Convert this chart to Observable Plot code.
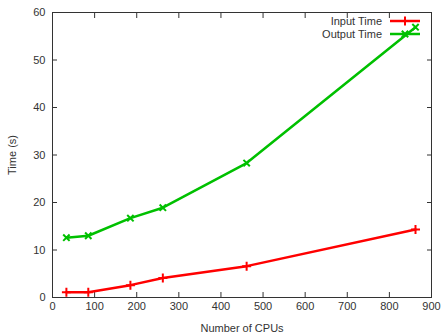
<!DOCTYPE html>
<html><head><meta charset="utf-8">
<script src="https://cdn.jsdelivr.net/npm/d3@7"></script>
<script src="https://cdn.jsdelivr.net/npm/@observablehq/plot@0.6"></script>
<style>
body{margin:0;background:#fff;font-family:"Liberation Sans",Arial,sans-serif;}
#wrap{position:relative;width:441px;height:334px;}
#legend{position:absolute;left:0;top:0;}
</style></head><body>
<div id="wrap"></div>
<script>
const cpus = [33, 85, 185, 262, 461, 862];
const inputTime = [1.1, 1.1, 2.6, 4.1, 6.6, 14.3];
const outputTime = [12.6, 13.0, 16.7, 18.9, 28.3, 56.9];
const seriesNames = ["Input Time", "Output Time"];
const seriesColors = ["#ff0000", "#00c000"];
const seriesSymbols = ["plus", "times"];
const xTicks = [0,100,200,300,400,500,600,700,800,900];
const yTicks = [0,10,20,30,40,50,60];

const input = cpus.map((c,i)=>({x:c, y:inputTime[i]}));
const output = cpus.map((c,i)=>({x:c, y:outputTime[i]}));

const chart = Plot.plot({
  width: 441, height: 334,
  marginLeft: 52, marginRight: 10, marginTop: 12, marginBottom: 37,
  style: {fontFamily: '"Liberation Sans", Arial, sans-serif', fontSize: "11px", color: "#333", background: "#fff"},
  x: {domain: [0, 900]},
  y: {domain: [0, 60]},
  marks: [
    Plot.frame({stroke: "#333", strokeWidth: 1}),
    Plot.axisX({ticks: xTicks, tickSize: -5, tickPadding: 10, stroke: "#333", label: "Number of CPUs", labelAnchor: "center", labelArrow: "none", labelOffset: 34}),
    Plot.axisX({anchor: "top", ticks: xTicks, tickSize: -5, tickFormat: () => "", label: null, stroke: "#333"}),
    Plot.axisY({ticks: yTicks, tickSize: -5, tickPadding: 12, stroke: "#333", label: "Time (s)", labelAnchor: "center", labelArrow: "none", labelOffset: 44}),
    Plot.axisY({anchor: "right", ticks: yTicks, tickSize: -5, tickFormat: () => "", label: null, stroke: "#333"}),
    Plot.line(input, {x: "x", y: "y", stroke: seriesColors[0], strokeWidth: 2.5}),
    Plot.dot(input, {x: "x", y: "y", stroke: seriesColors[0], symbol: seriesSymbols[0], r: 3, strokeWidth: 2}),
    Plot.line(output, {x: "x", y: "y", stroke: seriesColors[1], strokeWidth: 2.5}),
    Plot.dot(output, {x: "x", y: "y", stroke: seriesColors[1], symbol: seriesSymbols[1], r: 3, strokeWidth: 2})
  ]
});
document.getElementById("wrap").appendChild(chart);

// legend overlay
const lg = d3.select("#wrap").append("svg").attr("id","legend").attr("width",441).attr("height",50);
seriesNames.forEach((name,i)=>{
  const y = 21 + i*13;
  lg.append("text").attr("x",382).attr("y",y).attr("dy","0.35em").attr("text-anchor","end")
    .attr("fill","#333").style("font-family",'"Liberation Sans", Arial, sans-serif').style("font-size","11px").text(name);
  lg.append("line").attr("x1",390).attr("x2",420).attr("y1",y).attr("y2",y).attr("stroke",seriesColors[i]).attr("stroke-width",2.5);
  const sym = d3.symbol(i===0?d3.symbolPlus:d3.symbolTimes, 28)();
  lg.append("path").attr("d",sym).attr("transform",`translate(405,${y})`).attr("fill","none").attr("stroke",seriesColors[i]).attr("stroke-width",2);
});
</script></body></html>
